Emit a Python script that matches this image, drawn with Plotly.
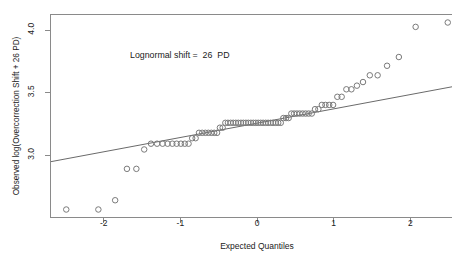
import plotly.graph_objects as go

# Theoretical normal quantiles (x), n = 78
expected_quantiles = [
    -2.489, -2.070, -1.851, -1.697, -1.574, -1.472, -1.383, -1.304, -1.232, -1.166,
    -1.105, -1.048, -0.993, -0.942, -0.893, -0.846, -0.801, -0.757, -0.715, -0.674,
    -0.635, -0.596, -0.558, -0.521, -0.484, -0.448, -0.413, -0.379, -0.344, -0.310,
    -0.277, -0.244, -0.210, -0.178, -0.145, -0.113, -0.080, -0.048, -0.016, 0.016,
    0.048, 0.080, 0.113, 0.145, 0.178, 0.210, 0.244, 0.277, 0.310, 0.344,
    0.379, 0.413, 0.448, 0.484, 0.521, 0.558, 0.596, 0.635, 0.674, 0.715,
    0.757, 0.801, 0.846, 0.893, 0.942, 0.993, 1.048, 1.105, 1.166, 1.232,
    1.304, 1.383, 1.472, 1.574, 1.697, 1.851, 2.070, 2.489,
]

# Observed log(Overcorrection Shift + 26 PD)
observed = (
    [2.565] * 2 + [2.639] * 1 + [2.890] * 2 + [3.045] * 1 + [3.091] * 9
    + [3.135] * 2 + [3.178] * 7 + [3.219] * 2 + [3.258] * 23 + [3.296] * 3
    + [3.332] * 8 + [3.367] * 2 + [3.401] * 4 + [3.466] * 2 + [3.526] * 2
    + [3.555] * 1 + [3.584] * 1 + [3.638] * 2 + [3.714] * 1 + [3.784] * 1
    + [4.025] * 1 + [4.060] * 1
)

# Reference (qq) line
line_intercept = 3.255
line_slope = 0.1144

x_ticks = [-2, -1, 0, 1, 2]
y_ticks = [3.0, 3.5, 4.0]

x_range = [-2.688, 2.688]
y_range = [2.505, 4.120]

font_family = "Liberation Sans, Arial, Helvetica, sans-serif"

fig = go.Figure()
fig.add_trace(go.Scatter(
    x=x_range,
    y=[line_intercept + line_slope * v for v in x_range],
    mode="lines",
    line=dict(color="#6a6a6a", width=1),
    hoverinfo="skip",
    showlegend=False,
))
fig.add_trace(go.Scatter(
    x=expected_quantiles,
    y=observed,
    mode="markers",
    marker=dict(symbol="circle-open", size=5.5, color="#7a7a7a", line=dict(width=1)),
    showlegend=False,
))

fig.add_annotation(
    x=-1, y=3.8, xref="x", yref="y",
    text="Lognormal shift =\u00a0 26\u00a0 PD",
    showarrow=False,
    font=dict(family=font_family, size=8.8, color="#222"),
)

axis_common = dict(
    showline=True, linecolor="#8a8a8a", linewidth=1, mirror=True,
    showgrid=False, zeroline=False,
    ticks="outside", ticklen=5, tickcolor="#8a8a8a",
    tickfont=dict(family=font_family, size=8.5, color="#222"),
)

fig.update_layout(
    width=460, height=254,
    margin=dict(l=43, r=5, t=7, b=45),
    paper_bgcolor="white", plot_bgcolor="white",
    xaxis=dict(
        range=x_range, tickvals=x_ticks, ticktext=[str(v) for v in x_ticks],
        ticklabelstandoff=-7,
        title=dict(text="Expected Quantiles", standoff=15,
                   font=dict(family=font_family, size=8.5, color="#222")),
        **axis_common,
    ),
    yaxis=dict(
        range=y_range, tickvals=y_ticks, ticktext=[f"{v:.1f}" for v in y_ticks],
        tickangle=-90, ticklabelstandoff=8,
        title=dict(text="Observed log(Overcorrection Shift + 26 PD)", standoff=4,
                   font=dict(family=font_family, size=8.2, color="#222")),
        **axis_common,
    ),
)

fig.write_html("out.html")
